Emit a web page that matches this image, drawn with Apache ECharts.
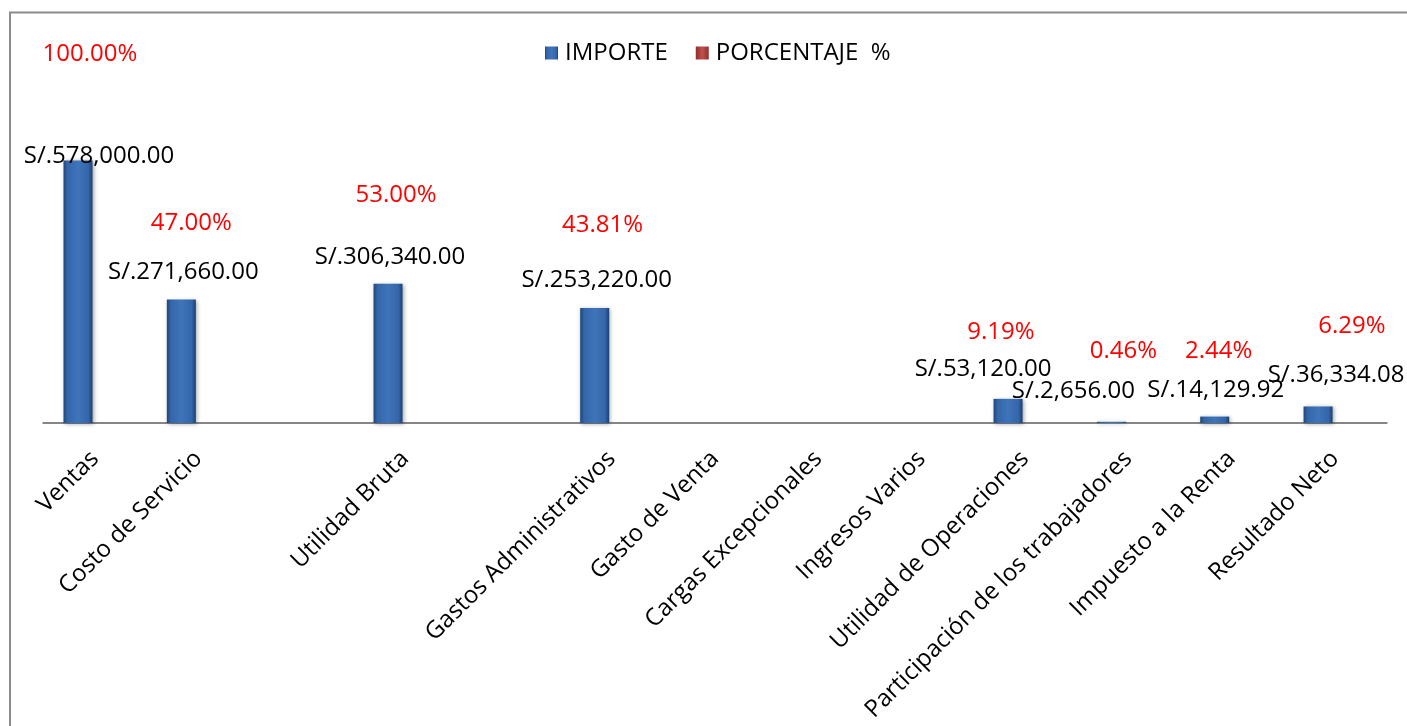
<!DOCTYPE html>
<html>
<head>
<meta charset="utf-8">
<script src="https://cdn.jsdelivr.net/npm/echarts@6/dist/echarts.min.js"></script>
<style>
html,body{margin:0;padding:0;background:#fff;}
#chart{width:1407px;height:726px;}
</style>
</head>
<body>
<div id="chart"></div>
<script>
// ---- data ----
var categories = ['Ventas', 'Costo de Servicio', '', 'Utilidad Bruta', '', 'Gastos Administrativos',
  'Gasto de Venta', 'Cargas Excepcionales', 'Ingresos Varios', 'Utilidad de Operaciones',
  'Participación de los trabajadores', 'Impuesto a la Renta', 'Resultado Neto'];
var importe = [578000, 271660, null, 306340, null, 253220, null, null, null, 53120, 2656, 14129.92, 36334.08];
var porcentaje = [1.00, 0.47, null, 0.53, null, 0.4381, null, null, null, 0.0919, 0.0046, 0.0244, 0.0629];
var seriesNames = ['IMPORTE', 'PORCENTAJE  %'];

// ---- label placement (styling, manual label moves as in the original) ----
var importeLabelOffsets = [[21, -4], [2, -27], null, [2, -27], null, [2, -28], null, null, null, [-25, -30], [-38, -31], [1, -26], [18, -31]];
var pctLabelOffsets = [[-22, -369], [-24, -200], null, [-26, -228], null, [-26, -198], null, null, null, [-41, -91], [-22, -72], [-30, -72], [0, -97]];

function fmtMoney(v) {
  var s = v.toFixed(2).split('.');
  s[0] = s[0].replace(/\B(?=(\d{3})+(?!\d))/g, ',');
  return 'S/.' + s[0] + '.' + s[1];
}
function fmtPct(v) { return (v * 100).toFixed(2) + '%'; }

var FONT = 'Open Sans';
var FS = 24;

var blueGrad = new echarts.graphic.LinearGradient(0, 0, 1, 0, [
  {offset: 0, color: '#1d467c'},
  {offset: 0.14, color: '#3466a8'},
  {offset: 0.5, color: '#3f74bb'},
  {offset: 0.86, color: '#3466a8'},
  {offset: 1, color: '#1b3f70'}
]);
var redGrad = new echarts.graphic.LinearGradient(0, 0, 1, 0, [
  {offset: 0, color: '#8e2f2c'},
  {offset: 0.5, color: '#c0504d'},
  {offset: 1, color: '#8e2f2c'}
]);

var impData = importe.map(function (v, i) {
  if (v == null) return null;
  var o = importeLabelOffsets[i] || [0, -28];
  return {value: v, label: {offset: o}};
});
var pctData = porcentaje.map(function (v, i) {
  if (v == null) return null;
  var o = pctLabelOffsets[i] || [0, -80];
  return {value: v, label: {offset: o}};
});

var chart = echarts.init(document.getElementById('chart'));
chart.setOption({
  animation: false,
  textStyle: {fontFamily: FONT},
  graphic: [{
    type: 'rect',
    shape: {x: 10, y: 12.5, width: 1420, height: 740},
    style: {fill: 'none', stroke: '#8c8c8c', lineWidth: 2},
    silent: true
  }],
  legend: {
    left: 540,
    top: 36,
    itemWidth: 13,
    itemHeight: 13,
    itemGap: 28,
    icon: 'rect',
    textStyle: {fontFamily: FONT, fontSize: FS, color: '#000', padding: [0, 0, 0, 2]},
    data: seriesNames
  },
  grid: {left: 43.3, right: 20.3, top: 105, bottom: 303, containLabel: false},
  xAxis: {
    type: 'category',
    data: categories,
    axisLine: {lineStyle: {color: '#868686', width: 2}},
    axisTick: {show: false},
    axisLabel: {
      interval: 0,
      rotate: 45,
      margin: 32,
      color: '#000',
      fontFamily: FONT,
      fontSize: FS
    }
  },
  yAxis: {
    type: 'value',
    min: 0,
    max: 700000,
    show: false,
    splitLine: {show: false}
  },
  series: [{
    name: seriesNames[0],
    type: 'bar',
    barWidth: 29,
    barGap: '17%',
    data: impData,
    itemStyle: {
      color: blueGrad,
      shadowColor: 'rgba(0,0,0,0.35)',
      shadowBlur: 4,
      shadowOffsetX: 1,
      shadowOffsetY: 1
    },
    label: {
      show: true,
      position: 'top',
      distance: 0,
      verticalAlign: 'middle',
      color: '#000',
      fontFamily: FONT,
      fontSize: FS,
      formatter: function (p) { return fmtMoney(p.value); }
    }
  }, {
    name: seriesNames[1],
    type: 'bar',
    barWidth: 29,
    data: pctData,
    itemStyle: {color: redGrad},
    label: {
      show: true,
      position: 'top',
      distance: 0,
      verticalAlign: 'middle',
      color: '#ff0000',
      fontFamily: FONT,
      fontSize: FS,
      formatter: function (p) { return fmtPct(p.value); }
    }
  }]
});
</script>
</body>
</html>
